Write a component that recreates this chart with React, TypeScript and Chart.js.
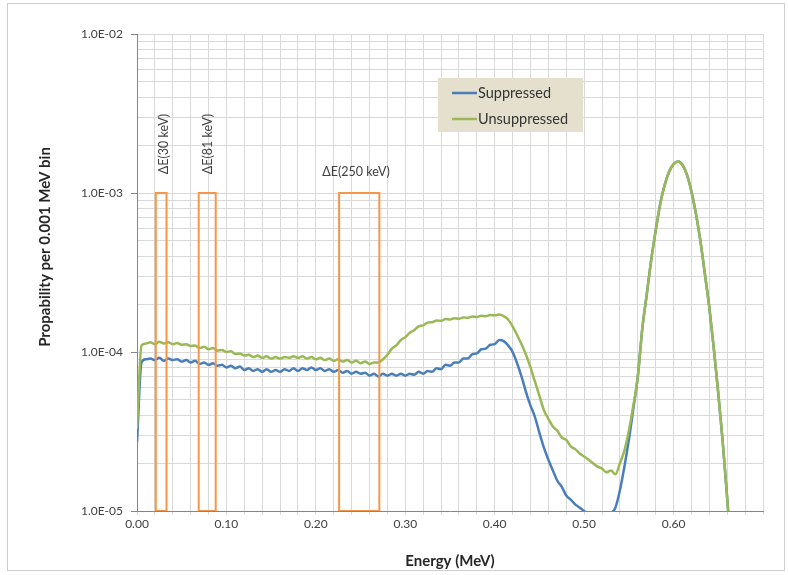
import React, { useEffect, useRef } from 'react';
import { Chart, registerables } from 'chart.js';

Chart.register(...registerables);

// ---- Data ----
const E_START = 0;
const E_STEP = 0.005; // MeV between listed samples

// Suppressed spectrum, 0.000 .. 0.555 MeV
const suppressedLow = [
  2.7e-5, 8.6e-5, 9.0e-5, 9.1e-5, 8.9e-5, 9.2e-5, 8.8e-5, 9.1e-5, 8.9e-5, 9.0e-5,
  8.7e-5, 8.9e-5, 8.6e-5, 8.8e-5, 8.4e-5, 8.6e-5, 8.3e-5, 8.5e-5, 8.2e-5, 8.3e-5,
  8.0e-5, 8.2e-5, 7.9e-5, 8.1e-5, 7.7e-5, 7.9e-5, 7.6e-5, 7.8e-5, 7.5e-5, 7.8e-5,
  7.5e-5, 7.7e-5, 7.5e-5, 7.8e-5, 7.6e-5, 7.9e-5, 7.6e-5, 7.9e-5, 7.7e-5, 8.0e-5,
  7.7e-5, 7.9e-5, 7.6e-5, 7.8e-5, 7.5e-5, 7.7e-5, 7.4e-5, 7.6e-5, 7.3e-5, 7.5e-5,
  7.3e-5, 7.4e-5, 7.1e-5, 7.3e-5, 7.0e-5, 7.3e-5, 7.1e-5, 7.3e-5, 7.1e-5, 7.3e-5,
  7.1e-5, 7.3e-5, 7.2e-5, 7.5e-5, 7.3e-5, 7.6e-5, 7.5e-5, 7.9e-5, 7.8e-5, 8.3e-5,
  8.2e-5, 8.6e-5, 8.6e-5, 9.1e-5, 9.1e-5, 9.7e-5, 9.8e-5, 1.04e-4, 1.05e-4, 1.11e-4,
  1.12e-4, 1.19e-4, 1.17e-4, 1.10e-4, 1.00e-4, 8.5e-5, 7.0e-5, 5.6e-5, 4.6e-5, 3.9e-5,
  3.1e-5, 2.5e-5, 2.1e-5, 1.8e-5, 1.55e-5, 1.42e-5, 1.25e-5, 1.18e-5, 1.1e-5, 1.05e-5,
  1.0e-5, 9.6e-6, 9.3e-6, 9.8e-6, 9.2e-6, 9.5e-6, 9.7e-6, 1.05e-5, 1.35e-5, 1.9e-5,
  2.8e-5, 4.4e-5,
];

// Unsuppressed spectrum, 0.000 .. 0.555 MeV
const unsuppressedLow = [
  3.3e-5, 1.10e-4, 1.13e-4, 1.15e-4, 1.12e-4, 1.16e-4, 1.13e-4, 1.15e-4, 1.12e-4, 1.14e-4,
  1.11e-4, 1.12e-4, 1.09e-4, 1.10e-4, 1.06e-4, 1.08e-4, 1.04e-4, 1.06e-4, 1.02e-4, 1.03e-4,
  1.00e-4, 1.01e-4, 9.7e-5, 9.8e-5, 9.5e-5, 9.6e-5, 9.3e-5, 9.5e-5, 9.2e-5, 9.4e-5,
  9.1e-5, 9.3e-5, 9.1e-5, 9.3e-5, 9.2e-5, 9.4e-5, 9.2e-5, 9.4e-5, 9.1e-5, 9.3e-5,
  9.0e-5, 9.2e-5, 8.9e-5, 9.1e-5, 8.8e-5, 9.0e-5, 8.7e-5, 8.9e-5, 8.6e-5, 8.8e-5,
  8.5e-5, 8.7e-5, 8.4e-5, 8.6e-5, 8.6e-5, 9.0e-5, 9.6e-5, 1.05e-4, 1.10e-4, 1.19e-4,
  1.24e-4, 1.32e-4, 1.37e-4, 1.45e-4, 1.47e-4, 1.53e-4, 1.54e-4, 1.58e-4, 1.57e-4, 1.61e-4,
  1.60e-4, 1.63e-4, 1.62e-4, 1.65e-4, 1.64e-4, 1.67e-4, 1.66e-4, 1.69e-4, 1.68e-4, 1.71e-4,
  1.70e-4, 1.72e-4, 1.68e-4, 1.60e-4, 1.45e-4, 1.28e-4, 1.12e-4, 9.6e-5, 8.0e-5, 6.5e-5,
  5.3e-5, 4.3e-5, 3.8e-5, 3.4e-5, 3.2e-5, 2.9e-5, 2.8e-5, 2.55e-5, 2.45e-5, 2.3e-5,
  2.2e-5, 2.1e-5, 2.0e-5, 1.9e-5, 1.85e-5, 1.75e-5, 1.8e-5, 1.7e-5, 2.0e-5, 2.4e-5,
  3.2e-5, 4.6e-5,
];

// Photopeak shared by both spectra, 0.560 .. 0.665 MeV
const photopeak = [
  7.0e-5, 1.4e-4, 2.3e-4, 3.8e-4, 5.8e-4, 8.5e-4, 1.12e-3, 1.36e-3, 1.52e-3, 1.58e-3,
  1.50e-3, 1.30e-3, 1.02e-3, 7.4e-4, 5.0e-4, 3.1e-4, 1.9e-4, 1.05e-4, 5.5e-5, 2.7e-5,
  1.2e-5, 5.0e-6,
];

const seriesNames = ['Suppressed', 'Unsuppressed'];
const seriesColors = ['#4A7EBB', '#98B954'];

// Energy windows (MeV) drawn as boxes
const windowStart = [0.021, 0.069, 0.226];
const windowEnd = [0.033, 0.088, 0.271];
const windowBottom = 1e-5;
const windowTop = 1e-3;
const windowLabels = ['ΔE(30 keV)', 'ΔE(81 keV)', 'ΔE(250 keV)'];
const windowLabelX = [0.0302, 0.0795, 0.245];
const windowLabelY = [2.03e-3, 2.03e-3, 1.36e-3];
const windowLabelVertical = [true, true, false];

const xMin = 0;
const xMax = 0.7;
const xGridStep = 0.02;
const xLabelStep = 0.1;
const xLabelMax = 0.6;
const yMin = 1e-5;
const yMax = 1e-2;

const xTitle = 'Energy (MeV)';
const yTitle = 'Propability per 0.001 MeV bin';

// ---- helpers ----
const toPoints = (vals: number[], start: number) =>
  vals.map((v, i) => ({ x: +(start + i * E_STEP).toFixed(4), y: v }));

const peakStart = E_START + suppressedLow.length * E_STEP;
const suppressedData = [...toPoints(suppressedLow, E_START), ...toPoints(photopeak, peakStart)];
const unsuppressedData = [...toPoints(unsuppressedLow, E_START), ...toPoints(photopeak, peakStart)];

const isDecade = (v: number) => Math.abs(Math.log10(v) - Math.round(Math.log10(v))) < 1e-9;
const fmtExp = (v: number) => {
  const e = Math.round(Math.log10(v));
  const m = v / Math.pow(10, e);
  const sign = e < 0 ? '-' : '+';
  return `${m.toFixed(1)}E${sign}${String(Math.abs(e)).padStart(2, '0')}`;
};

const yTickValues: number[] = [];
for (let d = Math.round(Math.log10(yMin)); d < Math.round(Math.log10(yMax)); d++) {
  for (let m = 1; m <= 9; m++) yTickValues.push(m * Math.pow(10, d));
}
yTickValues.push(yMax);

const xTickValues: number[] = [];
for (let i = 0; i <= Math.round((xMax - xMin) / xGridStep); i++) {
  xTickValues.push(+(xMin + i * xGridStep).toFixed(4));
}

const FONT = 'Lato, "Open Sans", sans-serif';

const decorPlugin = {
  id: 'decor',
  beforeDraw(chart: any) {
    const ctx = chart.ctx;
    ctx.save();
    ctx.fillStyle = '#ffffff';
    ctx.fillRect(0, 0, chart.width, chart.height);
    ctx.strokeStyle = '#cfcfcf';
    ctx.lineWidth = 1;
    ctx.strokeRect(7.5, 3.5, 777, 567);
    ctx.restore();
  },
  afterDraw(chart: any) {
    const ctx = chart.ctx;
    const xs = chart.scales.x;
    const ys = chart.scales.y;
    const area = chart.chartArea;
    ctx.save();
    // window labels
    ctx.fillStyle = '#404040';
    ctx.font = `12.5px ${FONT}`;
    ctx.textAlign = 'center';
    ctx.textBaseline = 'middle';
    windowLabels.forEach((t, i) => {
      const px = xs.getPixelForValue(windowLabelX[i]);
      const py = ys.getPixelForValue(windowLabelY[i]);
      ctx.save();
      ctx.translate(px, py);
      if (windowLabelVertical[i]) ctx.rotate(-Math.PI / 2);
      ctx.fillText(t, 0, 0);
      ctx.restore();
    });
    // axis titles
    ctx.fillStyle = '#262626';
    ctx.font = `bold 15px ${FONT}`;
    ctx.fillText(xTitle, (area.left + area.right) / 2, 561);
    ctx.save();
    ctx.translate(45, 247);
    ctx.rotate(-Math.PI / 2);
    ctx.fillText(yTitle, 0, 0);
    ctx.restore();
    // legend
    const lx = 438, ly = 78, lw = 145, lh = 54;
    ctx.fillStyle = '#E4E0CD';
    ctx.fillRect(lx, ly, lw, lh);
    ctx.font = `14.5px ${FONT}`;
    ctx.textAlign = 'left';
    seriesNames.forEach((name, i) => {
      const yy = ly + 15 + i * 26;
      ctx.strokeStyle = seriesColors[i];
      ctx.lineWidth = 2.5;
      ctx.beginPath();
      ctx.moveTo(lx + 14, yy);
      ctx.lineTo(lx + 39, yy);
      ctx.stroke();
      ctx.fillStyle = '#333333';
      ctx.fillText(name, lx + 40, yy);
    });
    ctx.restore();
  },
};

export default function App() {
  const ref = useRef<HTMLCanvasElement>(null);
  useEffect(() => {
    if (!ref.current) return;
    const boxDatasets = windowStart.map((x0, i) => ({
      label: '',
      data: [
        { x: x0, y: windowBottom },
        { x: x0, y: windowTop },
        { x: windowEnd[i], y: windowTop },
        { x: windowEnd[i], y: windowBottom },
        { x: x0, y: windowBottom },
      ],
      borderColor: '#F79646',
      borderWidth: 2,
      pointRadius: 0,
      tension: 0,
      fill: false,
      order: 0,
    }));
    const chart = new Chart(ref.current, {
      type: 'line',
      data: {
        datasets: [
          {
            label: seriesNames[0],
            data: suppressedData,
            borderColor: seriesColors[0],
            borderWidth: 2.5,
            pointRadius: 0,
            cubicInterpolationMode: 'monotone',
            fill: false,
            order: 2,
          },
          {
            label: seriesNames[1],
            data: unsuppressedData,
            borderColor: seriesColors[1],
            borderWidth: 2.5,
            pointRadius: 0,
            cubicInterpolationMode: 'monotone',
            fill: false,
            order: 1,
          },
          ...boxDatasets,
        ] as any,
      },
      options: {
        animation: false,
        responsive: false,
        devicePixelRatio: 1,
        layout: { padding: { left: 0, top: 34, right: 25, bottom: 0 } },
        plugins: { legend: { display: false }, tooltip: { enabled: false }, title: { display: false } },
        scales: {
          x: {
            type: 'linear',
            min: xMin,
            max: xMax,
            afterBuildTicks: (s: any) => {
              s.ticks = xTickValues.map((v) => ({ value: v }));
            },
            afterFit: (s: any) => {
              s.height = 64;
            },
            ticks: {
              autoSkip: false,
              maxRotation: 0,
              padding: 2,
              color: '#404040',
              font: { family: FONT, size: 12 },
              callback: (v: any) => {
                const n = Number(v);
                const r = n / xLabelStep;
                return Math.abs(r - Math.round(r)) < 1e-6 && n <= xLabelMax + 1e-9 ? n.toFixed(2) : '';
              },
            },
            grid: { color: '#D9D9D9', lineWidth: 1, tickLength: 4, tickColor: '#D9D9D9' },
            border: { color: '#868686', width: 1 },
          },
          y: {
            type: 'logarithmic',
            min: yMin,
            max: yMax,
            afterBuildTicks: (s: any) => {
              s.ticks = yTickValues.map((v) => ({ value: v }));
            },
            afterFit: (s: any) => {
              s.width = 137;
            },
            ticks: {
              autoSkip: false,
              padding: 8,
              color: '#404040',
              font: { family: FONT, size: 12 },
              callback: (v: any) => (isDecade(Number(v)) ? fmtExp(Number(v)) : ''),
            },
            grid: {
              color: '#D9D9D9',
              lineWidth: 1,
              tickLength: 6,
              tickColor: (c: any) => (c.tick && isDecade(c.tick.value) ? '#868686' : 'rgba(0,0,0,0)'),
            },
            border: { color: '#868686', width: 1 },
          },
        },
      },
      plugins: [decorPlugin],
    } as any);
    return () => chart.destroy();
  }, []);
  return (
    <div style={{ position: 'absolute', left: 0, top: 0, width: 788, height: 575, background: '#fff' }}>
      <canvas ref={ref} width={788} height={575} style={{ display: 'block', width: 788, height: 575 }} />
    </div>
  );
}
